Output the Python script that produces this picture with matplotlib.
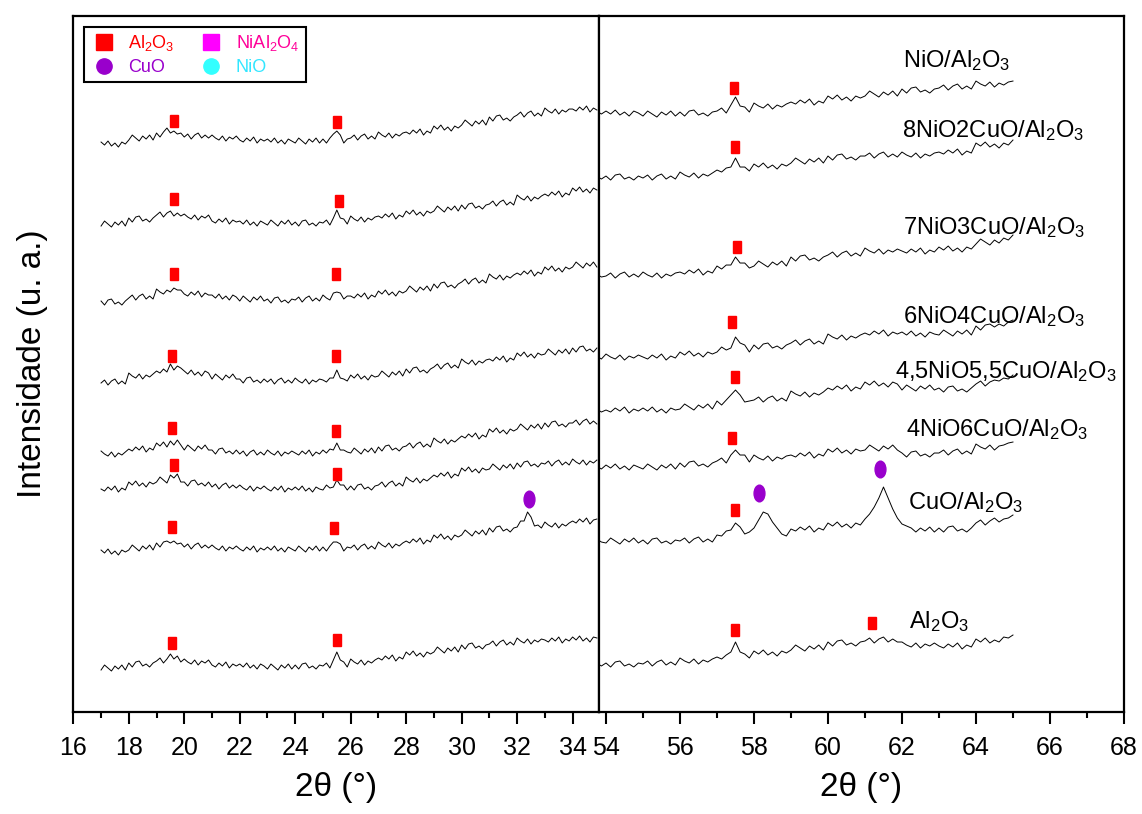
import numpy as np
import matplotlib
matplotlib.use("Agg")
import matplotlib.pyplot as plt
from matplotlib.lines import Line2D
from matplotlib.markers import MarkerStyle
from matplotlib.transforms import Affine2D

plt.rcParams['font.family'] = ['Liberation Sans', 'DejaVu Sans']
plt.rcParams['mathtext.fontset'] = 'custom'
plt.rcParams['mathtext.rm'] = 'Liberation Sans'
plt.rcParams['mathtext.it'] = 'Liberation Sans:italic'
plt.rcParams['mathtext.bf'] = 'Liberation Sans:bold'

# 2theta (passo 0.125)
theta_low = np.arange(17.0, 34.9, 0.125)
theta_high = np.arange(53.75, 65.01, 0.125)

# intensita' (u. a.) gia' sfalsate
nio_low = [570, 567, 571, 566, 569, 565, 570, 568, 572, 577, 574, 571, 576, 573, 577, 572,
           579, 575, 580, 584, 579, 581, 578, 579, 575, 578, 573, 577, 579, 574, 577, 574,
           577, 574, 572, 576, 571, 575, 573, 576, 572, 570, 574, 571, 575, 569, 573, 571,
           573, 570, 574, 569, 572, 568, 573, 571, 569, 574, 571, 568, 573, 570, 574, 569,
           573, 569, 574, 578, 581, 577, 569, 573, 574, 577, 572, 576, 578, 573, 576, 573,
           580, 577, 575, 579, 574, 578, 576, 579, 580, 578, 582, 579, 583, 577, 581, 579,
           586, 583, 587, 582, 585, 581, 586, 584, 587, 592, 589, 586, 591, 588, 592, 587,
           595, 591, 596, 597, 592, 594, 591, 595, 597, 600, 595, 599, 601, 596, 599, 596,
           604, 601, 599, 603, 598, 602, 600, 603, 603, 601, 605, 602, 606, 600, 604, 602]
nio_high = [601, 598,
            601, 598, 602, 597, 600, 596, 601, 599, 596, 601, 598, 595, 600, 597, 601, 596,
            600, 596, 601, 602, 597, 599, 596, 600, 601, 604, 599, 607, 615, 606, 605, 600,
            609, 606, 604, 608, 603, 607, 605, 608, 610, 608, 612, 609, 613, 607, 611, 609,
            616, 613, 617, 612, 615, 611, 616, 614, 616, 621, 618, 615, 620, 617, 621, 616,
            623, 619, 624, 625, 620, 622, 619, 623, 624, 627, 622, 626, 628, 623, 626, 623,
            631, 628, 626, 630, 625, 629, 627, 630,
            631]

ni8_low = [486, 491, 488, 485, 490, 487, 491, 486, 494, 490, 495, 496, 491, 493, 490, 494,
           497, 500, 495, 499, 501, 496, 499, 496, 498, 495, 493, 497, 492, 496, 494, 497,
           491, 489, 493, 490, 494, 488, 492, 490, 491, 488, 492, 487, 490, 486, 491, 489,
           487, 492, 489, 486, 491, 488, 492, 487, 490, 486, 491, 492, 487, 489, 486, 490,
           489, 492, 487, 494, 502, 494, 493, 488, 496, 493, 491, 495, 490, 494, 492, 495,
           496, 494, 498, 495, 499, 493, 497, 495, 501, 498, 502, 497, 500, 496, 501, 499,
           501, 506, 503, 500, 505, 502, 506, 501, 507, 503, 508, 509, 504, 506, 503, 507,
           508, 511, 506, 510, 512, 507, 510, 507, 517, 514, 512, 516, 511, 515, 513, 516,
           518, 516, 520, 517, 521, 515, 519, 517, 524, 521, 525, 520, 523, 519, 524, 522]
ni8_high = [536, 533,
            536, 532, 537, 538, 533, 535, 532, 536, 534, 537, 532, 536, 538, 533, 536, 533,
            540, 537, 535, 539, 534, 538, 536, 539, 542, 540, 544, 545, 554, 545, 545, 541,
            548, 545, 549, 544, 547, 543, 548, 546, 549, 554, 551, 548, 553, 550, 554, 549,
            556, 552, 557, 558, 553, 555, 552, 556, 556, 559, 554, 558, 560, 555, 558, 555,
            560, 557, 555, 559, 554, 558, 556, 559, 560, 558, 562, 559, 563, 557, 561, 559,
            569, 566, 570, 565, 568, 564, 569, 567,
            572]

ni7_low = [411, 407, 412, 413, 408, 410, 407, 411, 414, 417, 412, 416, 418, 413, 416, 413,
           423, 420, 418, 422, 420, 424, 422, 422, 418, 416, 420, 417, 421, 415, 419, 417,
           417, 414, 418, 413, 416, 412, 417, 415, 411, 416, 413, 410, 415, 412, 416, 411,
           413, 409, 414, 415, 410, 412, 409, 413, 412, 415, 410, 414, 416, 411, 414, 411,
           417, 414, 412, 419, 420, 419, 413, 416, 416, 414, 418, 415, 419, 413, 417, 415,
           421, 418, 422, 417, 420, 416, 421, 419, 421, 426, 423, 420, 425, 422, 426, 421,
           428, 424, 429, 430, 425, 427, 424, 428, 430, 433, 428, 432, 434, 429, 432, 429,
           438, 435, 433, 437, 432, 436, 434, 437, 439, 437, 441, 438, 442, 436, 440, 438,
           445, 442, 446, 441, 444, 440, 445, 443, 445, 450, 447, 444, 449, 446, 450, 445]
ni7_high = [438, 435,
            436, 439, 434, 438, 440, 435, 438, 435, 440, 437, 435, 439, 434, 438, 436, 439,
            440, 438, 442, 439, 443, 437, 441, 439, 446, 443, 447, 447, 455, 449, 449, 444,
            446, 451, 448, 445, 450, 447, 451, 446, 455, 451, 456, 457, 452, 454, 451, 455,
            457, 460, 455, 459, 461, 456, 459, 456, 464, 461, 459, 463, 458, 462, 460, 463,
            461, 459, 463, 460, 464, 458, 462, 460, 465, 462, 466, 461, 464, 460, 465, 463,
            468, 473, 470, 467, 472, 469, 474, 472,
            477]

ni6_low = [329, 332, 327, 331, 333, 328, 331, 328, 339, 336, 334, 338, 333, 337, 335, 338,
           341, 339, 343, 340, 348, 342, 346, 344, 341, 338, 342, 337, 340, 336, 341, 339,
           333, 338, 335, 332, 337, 334, 338, 333, 333, 329, 334, 335, 330, 332, 329, 333,
           330, 333, 328, 332, 334, 329, 332, 329, 334, 331, 329, 333, 328, 332, 330, 333,
           332, 330, 334, 334, 342, 334, 333, 331, 337, 334, 338, 333, 336, 332, 337, 335,
           336, 341, 338, 335, 340, 337, 341, 336, 343, 339, 344, 345, 340, 342, 339, 343,
           345, 348, 343, 347, 349, 344, 347, 344, 353, 350, 348, 352, 347, 351, 349, 352,
           353, 351, 355, 352, 356, 350, 354, 352, 359, 356, 360, 355, 358, 354, 359, 357,
           358, 363, 360, 357, 362, 359, 363, 358, 364, 360, 365, 366, 361, 363, 360, 364]
ni6_high = [356, 353,
            358, 355, 353, 357, 352, 356, 354, 357, 355, 353, 357, 354, 358, 352, 356, 354,
            360, 357, 361, 356, 359, 355, 360, 358, 360, 365, 362, 364, 375, 369, 367, 360,
            367, 363, 368, 369, 364, 366, 363, 367, 369, 372, 367, 371, 373, 368, 371, 368,
            378, 375, 373, 377, 372, 376, 374, 377, 379, 377, 381, 378, 382, 376, 380, 378,
            380, 377, 381, 376, 379, 375, 380, 378, 377, 382, 379, 376, 381, 378, 382, 377,
            386, 382, 387, 388, 385, 388, 386, 390,
            392]

ni45_low = [261, 258, 256, 260, 255, 259, 257, 260, 263, 261, 265, 262, 266, 260, 264, 262,
            269, 266, 270, 265, 271, 267, 272, 267, 262, 267, 264, 261, 266, 263, 267, 262,
            262, 258, 263, 264, 259, 261, 258, 262, 258, 261, 256, 260, 262, 257, 260, 257,
            262, 259, 257, 261, 256, 260, 258, 261, 259, 257, 261, 258, 262, 256, 260, 258,
            262, 259, 263, 262, 269, 262, 262, 260, 259, 264, 261, 258, 263, 260, 264, 259,
            265, 261, 266, 267, 262, 264, 261, 265, 266, 269, 264, 268, 270, 265, 268, 265,
            274, 271, 269, 273, 268, 272, 270, 273, 276, 274, 278, 275, 279, 273, 277, 275,
            283, 280, 284, 279, 282, 278, 283, 281, 283, 288, 285, 282, 287, 284, 288, 283,
            289, 285, 290, 291, 286, 288, 285, 289, 289, 292, 287, 291, 293, 288, 291, 288]
ni45_high = [303, 300,
             302, 300, 304, 301, 305, 299, 303, 301, 304, 301, 305, 300, 303, 299, 304, 302,
             303, 308, 305, 302, 307, 304, 308, 303, 311, 307, 312, 317, 322, 317, 310, 311,
             312, 315, 310, 314, 316, 311, 314, 311, 321, 318, 316, 320, 315, 319, 317, 320,
             324, 322, 326, 323, 327, 321, 325, 323, 330, 327, 331, 326, 329, 325, 330, 328,
             322, 327, 324, 321, 326, 323, 327, 322, 324, 320, 325, 326, 321, 323, 320, 324,
             328, 331, 326, 330, 332, 331, 334, 333,
             337]

ni4_low = [223, 221, 225, 222, 226, 220, 224, 222, 230, 227, 231, 226, 229, 225, 230, 228,
           230, 235, 232, 229, 237, 234, 238, 230, 230, 226, 231, 232, 227, 229, 226, 230,
           225, 228, 223, 227, 229, 224, 227, 224, 227, 224, 222, 226, 221, 225, 223, 226,
           223, 221, 225, 222, 226, 220, 224, 222, 225, 222, 226, 221, 224, 220, 225, 223,
           222, 227, 224, 225, 232, 227, 227, 222, 226, 222, 227, 228, 223, 225, 222, 226,
           227, 230, 225, 229, 231, 226, 229, 226, 235, 232, 230, 234, 229, 233, 231, 234,
           237, 235, 239, 236, 240, 234, 238, 236, 244, 241, 245, 240, 243, 239, 244, 242,
           243, 248, 245, 242, 247, 244, 248, 243, 249, 245, 250, 251, 246, 248, 245, 249,
           248, 251, 246, 250, 252, 247, 250, 247, 253, 250, 248, 252, 247, 251, 249, 252]
ni4_high = [246, 243,
            247, 244, 248, 243, 246, 242, 247, 245, 243, 248, 245, 242, 247, 244, 248, 243,
            249, 245, 250, 251, 246, 248, 245, 249, 251, 254, 249, 257, 262, 257, 257, 250,
            257, 254, 252, 256, 251, 255, 253, 256, 257, 255, 259, 256, 260, 254, 258, 256,
            263, 260, 264, 259, 262, 258, 263, 261, 262, 267, 264, 261, 266, 263, 267, 262,
            259, 255, 260, 261, 256, 258, 255, 259, 259, 262, 257, 261, 263, 258, 261, 258,
            268, 265, 263, 267, 262, 266, 267, 269,
            270]

cuo_low = [162, 159, 163, 158, 161, 157, 162, 160, 162, 167, 164, 161, 166, 163, 167, 162,
           169, 165, 170, 171, 169, 171, 168, 169, 165, 168, 163, 167, 169, 164, 167, 164,
           167, 164, 162, 166, 161, 165, 163, 166, 163, 161, 165, 162, 166, 160, 164, 162,
           165, 162, 166, 161, 164, 160, 165, 163, 161, 166, 163, 160, 165, 162, 166, 161,
           165, 161, 166, 170, 170, 168, 161, 165, 164, 167, 162, 166, 168, 163, 166, 163,
           170, 167, 165, 169, 164, 168, 166, 169, 171, 169, 173, 170, 174, 168, 172, 170,
           177, 174, 178, 173, 176, 172, 177, 175, 177, 182, 179, 176, 181, 178, 182, 177,
           184, 180, 185, 186, 181, 183, 180, 184, 185, 191, 191, 200, 195, 186, 187, 184,
           190, 187, 185, 189, 184, 188, 186, 189, 191, 189, 193, 190, 194, 188, 192, 193]
cuo_high = [173, 170,
            169, 174, 171, 168, 173, 170, 174, 169, 172, 168, 173, 174, 169, 171, 168, 172,
            171, 174, 169, 173, 175, 170, 173, 170, 177, 176, 181, 182, 189, 185, 178, 180,
            184, 192, 200, 198, 190, 184, 178, 176, 183, 181, 185, 182, 186, 180, 184, 182,
            189, 186, 190, 185, 188, 184, 189, 187, 193, 198, 205, 214, 225, 214, 203, 194,
            188, 186, 184, 180, 184, 181, 185, 180, 184, 180, 185, 186, 181, 183, 180, 184,
            189, 192, 187, 191, 194, 190, 193, 194,
            197]

al_low = [42, 47, 44, 41, 46, 43, 47, 42, 49, 45, 50, 51, 46, 48, 45, 49,
          51, 54, 49, 53, 58, 53, 56, 50, 53, 50, 48, 52, 47, 51, 49, 52,
          47, 45, 49, 46, 50, 44, 48, 46, 48, 45, 49, 44, 47, 43, 48, 46,
          43, 48, 45, 42, 47, 44, 48, 43, 47, 43, 48, 49, 44, 46, 43, 47,
          46, 49, 44, 52, 60, 52, 50, 45, 53, 50, 48, 52, 47, 51, 49, 52,
          54, 52, 56, 53, 57, 51, 55, 53, 60, 57, 61, 56, 59, 55, 60, 58,
          60, 65, 62, 59, 64, 61, 65, 60, 67, 63, 68, 69, 64, 66, 63, 67,
          68, 71, 66, 70, 72, 67, 70, 67, 74, 71, 69, 73, 68, 72, 70, 73,
          72, 70, 74, 71, 75, 69, 73, 71, 75, 72, 76, 71, 74, 70, 75, 74]
al_high = [49, 46,
           49, 45, 50, 51, 46, 48, 45, 49, 48, 51, 46, 50, 52, 47, 50, 47,
           54, 51, 49, 53, 48, 52, 50, 53, 55, 53, 57, 60, 70, 60, 58, 54,
           61, 58, 62, 57, 60, 56, 61, 59, 62, 67, 64, 61, 66, 63, 67, 62,
           70, 66, 71, 72, 67, 69, 66, 70, 71, 74, 69, 73, 75, 70, 73, 70,
           70, 67, 65, 69, 64, 68, 66, 69, 66, 64, 68, 65, 69, 63, 67, 65,
           73, 70, 74, 69, 72, 70, 75, 74,
           77]

samples = ["NiO/Al$_2$O$_3$", "8NiO2CuO/Al$_2$O$_3$", "7NiO3CuO/Al$_2$O$_3$", "6NiO4CuO/Al$_2$O$_3$",
           "4,5NiO5,5CuO/Al$_2$O$_3$", "4NiO6CuO/Al$_2$O$_3$", "CuO/Al$_2$O$_3$", "Al$_2$O$_3$"]
low_data = [nio_low, ni8_low, ni7_low, ni6_low, ni45_low, ni4_low, cuo_low, al_low]
high_data = [nio_high, ni8_high, ni7_high, ni6_high, ni45_high, ni4_high, cuo_high, al_high]

# picchi identificati
al2o3_mark_theta = [[19.63, 25.50, 57.45], [19.63, 25.57, 57.49], [19.63, 25.47, 57.54], [19.56, 25.47, 57.41],
                    [19.56, 25.47, 57.49], [19.63, 25.50, 57.41], [19.56, 25.40, 57.49], [19.56, 25.50, 57.49, 61.19]]
al2o3_mark_y = [[591, 590, 624], [513, 511, 565], [438, 438, 465], [356, 356, 390],
                [284, 281, 335], [247, 238, 274], [185, 184, 202], [69, 72, 82, 89]]
cuo_mark_theta = [32.43, 58.14, 61.41]
cuo_mark_y = [213, 219, 243]

# posizione etichette
label_theta = [62.04, 62.0, 62.04, 62.02, 61.8, 62.1, 62.16, 62.19]
label_y = [645, 575, 478, 389, 334, 276, 203, 84]

sq = MarkerStyle('s', transform=Affine2D().scale(0.8, 1.0))
ell = MarkerStyle('o', transform=Affine2D().scale(0.65, 1.0))

fig = plt.figure(figsize=(11.42, 8.14), dpi=100)
ax1 = fig.add_axes([0.0642, 0.1253, 0.4603, 0.855])
ax2 = fig.add_axes([0.5245, 0.1253, 0.4597, 0.855])

for i in range(len(samples)):
    ax1.plot(theta_low, low_data[i], color='black', lw=0.7)
    ax2.plot(theta_high, high_data[i], color='black', lw=0.7)
    ax2.text(label_theta[i], label_y[i], samples[i], fontsize=17, ha='left', va='baseline')
    for t, y in zip(al2o3_mark_theta[i], al2o3_mark_y[i]):
        ax = ax1 if t < 40 else ax2
        ax.plot(t, y, linestyle='none', marker=sq, color='#FF0000', markersize=8)

for t, y in zip(cuo_mark_theta, cuo_mark_y):
    ax = ax1 if t < 40 else ax2
    ax.plot(t, y, linestyle='none', marker=ell, color='#9900CC', markersize=12)

ax1.set_xlim(16, 34.95)
ax2.set_xlim(53.81, 68)
for ax in (ax1, ax2):
    ax.set_ylim(0, 696)
    ax.set_yticks([])
    for s in ax.spines.values():
        s.set_linewidth(1.6)
    ax.tick_params(axis='x', which='major', length=8.6, width=1.5, direction='out', labelsize=18, pad=9)
    ax.tick_params(axis='x', which='minor', length=4.3, width=1.5, direction='out')
    ax.set_xlabel('2θ (°)', fontsize=24, labelpad=8)
ax1.set_xticks(np.arange(16, 35, 2))
ax1.set_xticks(np.arange(17, 35, 2), minor=True)
ax2.set_xticks(np.arange(54, 69, 2))
ax2.set_xticks(np.arange(55, 69, 2), minor=True)
ax1.set_ylabel('Intensidade (u. a.)', fontsize=24, labelpad=18)

handles = [
    Line2D([], [], linestyle='none', marker='s', color='#FF0000', markersize=11, label='Al$_2$O$_3$'),
    Line2D([], [], linestyle='none', marker='o', color='#9900CC', markersize=11, label='CuO'),
    Line2D([], [], linestyle='none', marker='s', color='#FF00FF', markersize=11, label='NiAl$_2$O$_4$'),
    Line2D([], [], linestyle='none', marker='o', color='#33FFFF', markersize=11, label='NiO'),
]
leg = ax1.legend(handles=handles, ncol=2, loc='upper left', bbox_to_anchor=(0.02, 0.984), fontsize=13,
                 fancybox=False, edgecolor='black', framealpha=1, handlelength=1.5, handletextpad=0.6,
                 columnspacing=1.3, borderpad=0.35, labelspacing=0.3, borderaxespad=0,
                 labelcolor=['#FF0000', '#9900CC', '#FF0099', '#33E6FF'])
leg.get_frame().set_linewidth(1.5)

fig.savefig('out.png', dpi=100)
